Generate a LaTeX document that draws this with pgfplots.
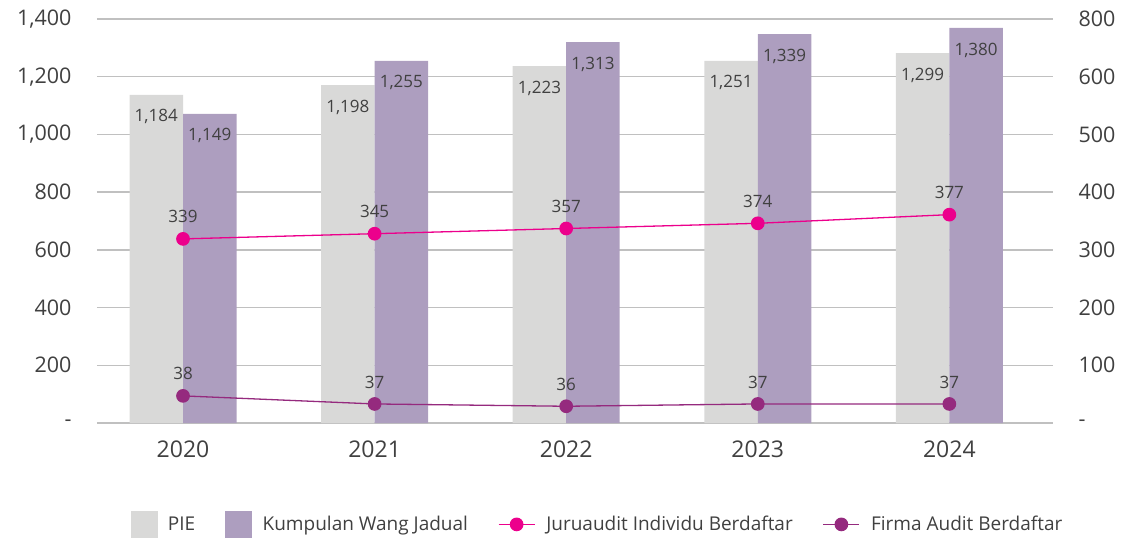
\documentclass[border=0pt]{standalone}
\usepackage{fontspec}
\setmainfont{Open Sans}
\usepackage{pgfplots}
\usepackage{pgfplotstable}
\pgfplotsset{compat=1.18}
\definecolor{piecol}{HTML}{D9D9D8}
\definecolor{kwjcol}{HTML}{AD9EBF}
\definecolor{jurucol}{HTML}{EC008C}
\definecolor{firmacol}{HTML}{952A7E}
\definecolor{gridcol}{HTML}{C0C0C0}
\definecolor{txtcol}{HTML}{404040}
\pgfplotsset{linelegend/.style={legend image code/.code={\draw[mark repeat=2,mark phase=2,##1] plot coordinates {(0bp,0bp) (18bp,0bp) (36bp,0bp)};}}}

\pgfplotstableread{
x pie piel kwj kwjl
0 1137 1,184 1071 1,149
1 1171 1,198 1255 1,255
2 1237 1,223 1320 1,313
3 1255 1,251 1348 1,339
4 1282 1,299 1369 1,380
}\bars

\pgfplotstableread{
x juru jurul firma firmal
0 319 339 47 38
1 328 345 33 37
2 337 357 29 36
3 346 374 33 37
4 361 377 33 37
}\lines

\begin{document}
\begin{tikzpicture}
\useasboundingbox (-97bp,-117bp) rectangle (1029bp,423bp);
\pgfplotsset{common/.style={at={(0,0)}, anchor=south west, scale only axis,
  width=956bp, height=404bp, xmin=-0.449, xmax=4.541,
  axis line style={draw=none}, major tick length=0pt,
  yticklabel style={font=\fontsize{21.5bp}{26bp}\selectfont, text=txtcol},
  xticklabel style={font=\fontsize{23bp}{27bp}\selectfont, text=txtcol}}}
\begin{axis}[common, ymin=0, ymax=1400, ytick={0,200,...,1400},
  yticklabels={-,200,400,600,800,{1,000},{1,200},{1,400}},
  xtick={0,1,2,3,4}, xticklabels={2020,2021,2022,2023,2024},
  ymajorgrids, grid style={gridcol, line width=1.3bp},
  yticklabel style={xshift=-22bp}, xticklabel style={yshift=-14bp}]
\addplot[ybar, bar width=53.5bp, bar shift=-26.75bp, fill=piecol, draw=none,
  point meta=explicit symbolic, nodes near coords,
  every node near coord/.style={anchor=center, xshift=-26.75bp, yshift=-22bp, font=\fontsize{17bp}{20bp}\selectfont, text=txtcol}]
  table[x=x, y=pie, meta=piel]{\bars};
\addplot[ybar, bar width=53.5bp, bar shift=26.75bp, fill=kwjcol, draw=none,
  point meta=explicit symbolic, nodes near coords,
  every node near coord/.style={anchor=center, xshift=26.75bp, yshift=-22bp, font=\fontsize{17bp}{20bp}\selectfont, text=txtcol}]
  table[x=x, y=kwj, meta=kwjl]{\bars};
\end{axis}
\begin{axis}[common, ymin=0, ymax=700, ytick={0,100,...,700},
  yticklabels={-,100,200,300,400,500,600,800},
  axis y line*=right, hide x axis,
  yticklabel style={xshift=22bp},
  legend style={at={(0.5235,-0.251)}, anchor=center, draw=none, fill=none,
    legend columns=4, font=\fontsize{19bp}{22bp}\selectfont, text=txtcol,
    /tikz/every even column/.append style={column sep=28bp},
    /tikz/every odd column/.append style={column sep=9bp}},
  legend cell align=left]
\addlegendimage{legend image code/.code={\fill[piecol] (0bp,-13bp) rectangle (26bp,13bp);}}
\addlegendentry{PIE}
\addlegendimage{legend image code/.code={\fill[kwjcol] (0bp,-13bp) rectangle (26bp,13bp);}}
\addlegendentry{Kumpulan Wang Jadual}
\addplot[jurucol, line width=1.3bp, mark=*, mark size=6.2bp, mark options={fill=jurucol, draw=none},
  point meta=explicit symbolic, nodes near coords,
  every node near coord/.style={anchor=center, yshift=22bp, font=\fontsize{17bp}{20bp}\selectfont, text=txtcol},
  linelegend]
  table[x=x, y=juru, meta=jurul]{\lines};
\addlegendentry{Juruaudit Individu Berdaftar}
\addplot[firmacol, line width=1.3bp, mark=*, mark size=6.2bp, mark options={fill=firmacol, draw=none},
  point meta=explicit symbolic, nodes near coords,
  every node near coord/.style={anchor=center, yshift=22bp, font=\fontsize{17bp}{20bp}\selectfont, text=txtcol},
  linelegend]
  table[x=x, y=firma, meta=firmal]{\lines};
\addlegendentry{Firma Audit Berdaftar}
\end{axis}
\end{tikzpicture}
\end{document}
